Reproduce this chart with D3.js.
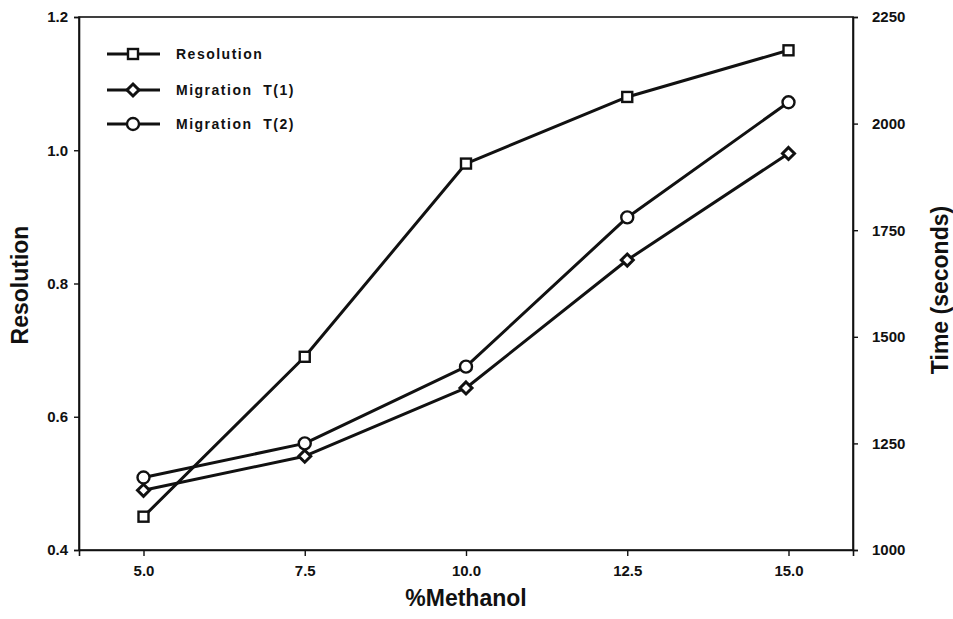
<!DOCTYPE html>
<html><head><meta charset="utf-8">
<script src="https://cdn.jsdelivr.net/npm/d3@7"></script>
<style>body{margin:0;background:#fff}svg{display:block}text{font-family:"Liberation Sans",Arial,sans-serif;font-weight:bold;fill:#111}</style>
</head><body><svg id="c" width="953" height="619"></svg>
<script>
const methanol = [5.0, 7.5, 10.0, 12.5, 15.0];
const resolution = [0.45, 0.69, 0.98, 1.08, 1.15];
const migrationT1 = [1140, 1220, 1380, 1680, 1930];
const migrationT2 = [1170, 1250, 1430, 1780, 2050];
const xTicks = [5.0, 7.5, 10.0, 12.5, 15.0];
const yLeftTicks = [0.4, 0.6, 0.8, 1.0, 1.2];
const yRightTicks = [1000, 1250, 1500, 1750, 2000, 2250];
const seriesNames = ["Resolution", "Migration  T(1)", "Migration  T(2)"];

const svg = d3.select("#c");
const L = 79, R = 853, T = 17, B = 550;
const x = d3.scaleLinear().domain([4, 16]).range([L, R]);
const yL = d3.scaleLinear().domain([0.4, 1.2]).range([B, T]);
const yR = d3.scaleLinear().domain([1000, 2250]).range([B, T]);
const ink = "#111";

svg.append("rect").attr("x", L).attr("y", T).attr("width", R - L).attr("height", B - T)
  .attr("fill", "none").attr("stroke", ink).attr("stroke-width", 1.6);

const gx = svg.append("g").attr("transform", `translate(0,${B})`)
  .call(d3.axisBottom(x).tickValues(xTicks).tickFormat(d3.format(".1f")).tickSize(6).tickPadding(9));
const gl = svg.append("g").attr("transform", `translate(${L},0)`)
  .call(d3.axisLeft(yL).tickValues(yLeftTicks).tickFormat(d3.format(".1f")).tickSize(5).tickPadding(6));
const gr = svg.append("g").attr("transform", `translate(${R},0)`)
  .call(d3.axisRight(yR).tickValues(yRightTicks).tickFormat(d3.format("d")).tickSize(5).tickPadding(14));
[gx, gl, gr].forEach(g => {
  g.attr("font-size", null).attr("font-family", null);
  g.select(".domain").attr("stroke", ink).attr("stroke-width", 1.6);
  g.selectAll(".tick line").attr("stroke", ink).attr("stroke-width", 1.4);
  g.selectAll(".tick text").style("font-size", "15px").style("font-weight", "bold")
    .style("font-family", '"Liberation Sans",Arial,sans-serif').attr("fill", ink);
});

svg.append("text").attr("x", 466).attr("y", 606).attr("text-anchor", "middle")
  .style("font-size", "23px").text("%Methanol");
svg.append("text").attr("transform", "translate(28,285) rotate(-90)").attr("text-anchor", "middle")
  .style("font-size", "23px").text("Resolution");
svg.append("text").attr("transform", "translate(948,290) rotate(-90)").attr("text-anchor", "middle")
  .style("font-size", "23px").text("Time (seconds)");

const line = (ys) => d3.line().x((d, i) => x(methanol[i])).y(d => ys(d));
const sw = 3;

function marker(g, type, cx, cy) {
  if (type === "square") {
    g.append("rect").attr("x", cx - 5).attr("y", cy - 5).attr("width", 10).attr("height", 10)
      .attr("fill", "#fff").attr("stroke", ink).attr("stroke-width", 2.4);
  } else if (type === "diamond") {
    g.append("path").attr("d", `M${cx},${cy - 6}L${cx + 6},${cy}L${cx},${cy + 6}L${cx - 6},${cy}Z`)
      .attr("fill", "#fff").attr("stroke", ink).attr("stroke-width", 3);
  } else {
    g.append("circle").attr("cx", cx).attr("cy", cy).attr("r", 6)
      .attr("fill", "#fff").attr("stroke", ink).attr("stroke-width", 2.4);
  }
}

const series = [
  {vals: resolution, scale: yL, type: "square"},
  {vals: migrationT1, scale: yR, type: "diamond"},
  {vals: migrationT2, scale: yR, type: "circle"}
];
const plot = svg.append("g");
series.forEach(s => {
  plot.append("path").datum(s.vals).attr("d", line(s.scale)).attr("fill", "none")
    .attr("stroke", ink).attr("stroke-width", sw).attr("stroke-linejoin", "round");
});
series.forEach(s => {
  s.vals.forEach((v, i) => marker(plot, s.type, x(methanol[i]), s.scale(v)));
});

const leg = svg.append("g");
const legY = [54, 90, 124];
series.forEach((s, i) => {
  leg.append("line").attr("x1", 107).attr("x2", 160).attr("y1", legY[i]).attr("y2", legY[i])
    .attr("stroke", ink).attr("stroke-width", sw);
  marker(leg, s.type, 133, legY[i]);
  leg.append("text").attr("x", 176).attr("y", legY[i] + 5).style("font-size", "14px")
    .attr("letter-spacing", 1.5).style("white-space", "pre").text(seriesNames[i]);
});
</script></body></html>
